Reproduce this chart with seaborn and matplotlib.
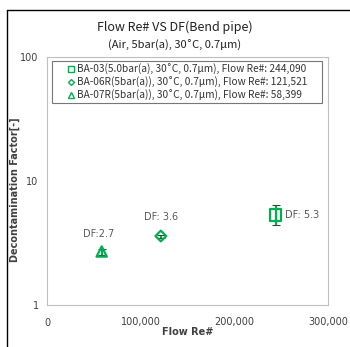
import matplotlib
matplotlib.use("Agg")
import matplotlib.pyplot as plt
from matplotlib.lines import Line2D
import seaborn as sns
import pandas as pd

# Test runs: flow Reynolds number vs decontamination factor
runs = ["BA-03", "BA-06R", "BA-07R"]
legend_labels = [
    "BA-03(5.0bar(a), 30\u02daC, 0.7\u03bcm), Flow Re#: 244,090",
    "BA-06R(5bar(a)), 30\u02daC, 0.7\u03bcm), Flow Re#: 121,521",
    "BA-07R(5bar(a)), 30\u02daC, 0.7\u03bcm), Flow Re#: 58,399",
]
flow_re = [244090, 121521, 58399]
df_values = [5.3, 3.6, 2.7]
df_low = [4.4, 3.5, 2.55]
df_high = [6.4, 3.7, 2.85]
point_labels = ["DF: 5.3", "DF: 3.6", "DF:2.7"]
markers = ["s", "D", "^"]
marker_sizes = [70, 30, 55]

x_ticks = [0, 100000, 200000, 300000]
x_tick_labels = ["0", "100,000", "200,000", "300,000"]
y_ticks = [1, 10, 100]
y_tick_labels = ["1", "10", "100"]

data = pd.DataFrame({"run": runs, "re": flow_re, "df": df_values})

sns.set_theme(style="white")
plt.rcParams["font.family"] = ["Noto Sans CJK KR", "DejaVu Sans"]

green = "#00B050"
grey_axis = "#BFBFBF"
text_grey = "#595959"

W, H = 350, 347
fig = plt.figure(figsize=(W / 100, H / 100), dpi=100)
ax = fig.add_axes([47 / W, 1 - 305 / H, (328 - 47) / W, (305 - 57) / H])

# error bars
for i in range(len(runs)):
    ax.errorbar(flow_re[i], df_values[i],
                yerr=[[df_values[i] - df_low[i]], [df_high[i] - df_values[i]]],
                fmt="none", ecolor="#404040", elinewidth=0.8, capsize=3, capthick=0.8, zorder=2)

# open markers
for i in range(len(runs)):
    sns.scatterplot(data=data.iloc[[i]], x="re", y="df", marker=markers[i],
                    s=marker_sizes[i], color=green, ax=ax, legend=False, zorder=3)
for coll in ax.collections:
    coll.set_facecolor("none")
    coll.set_edgecolor(green)
    coll.set_linewidth(1.6)

# value labels
offsets = [(7, 0, "left", "center"), (0, 10, "center", "bottom"), (-2, 9, "center", "bottom")]
for i in range(len(runs)):
    dx, dy, ha, va = offsets[i]
    ax.annotate(point_labels[i], (flow_re[i], df_values[i]), xytext=(dx, dy),
                textcoords="offset points", ha=ha, va=va, fontsize=7,
                color=text_grey, family=["DejaVu Sans"])

ax.set_yscale("log")
ax.set_xlim(0, 300000)
ax.set_ylim(1, 100)
ax.set_xticks(x_ticks)
ax.set_xticklabels(x_tick_labels)
ax.set_yticks(y_ticks)
ax.set_yticklabels(y_tick_labels)
ax.minorticks_off()
ax.set_xlabel("")
ax.set_ylabel("")
ax.tick_params(axis="both", which="major", length=3, width=0.8, color=grey_axis,
               labelsize=7, labelcolor="#404040")
ax.tick_params(axis="x", pad=6)
ax.tick_params(axis="y", pad=3)
for lbl in ax.get_xticklabels() + ax.get_yticklabels():
    lbl.set_family(["DejaVu Sans"])
for sp in ax.spines.values():
    sp.set_color(grey_axis)
    sp.set_linewidth(0.8)
ax.grid(False)

# axis titles
fig.text(188 / W, 1 - 332 / H, "Flow Re#", ha="center", va="center", fontsize=7,
         fontweight="bold", color="#404040", family=["DejaVu Sans"])
fig.text(15 / W, 1 - 190 / H, "Decontamination Factor[-]", ha="center", va="center",
         rotation=90, fontsize=7, fontweight="bold", color="#404040", family=["DejaVu Sans"])

fig.text(175 / W, 1 - 27 / H, "Flow Re# VS DF(Bend pipe)", ha="center", va="center",
         fontsize=9, color="#222222")
fig.text(175 / W, 1 - 45 / H, "(Air, 5bar(a), 30\u02daC, 0.7\u03bcm)", ha="center", va="center",
         fontsize=8, color="#222222", fontweight="medium")

handles = [Line2D([], [], linestyle="none", marker=m, markersize=4, markerfacecolor="none",
                  markeredgecolor=green, markeredgewidth=1.0) for m in ["s", "D", "^"]]
handles[1].set_markersize(3)
leg = fig.legend(handles, legend_labels, loc="upper left",
                 bbox_to_anchor=(52 / W, 1 - 101 / H, (322 - 52) / W, 40 / H),
                 bbox_transform=fig.transFigure, mode="expand",
                 fontsize=7.3, frameon=True, fancybox=False, handlelength=3.3,
                 handletextpad=-1.1, borderpad=0.25, labelspacing=0.2, borderaxespad=0)
leg.get_frame().set_edgecolor("#555555")
leg.get_frame().set_linewidth(0.8)
for t in leg.get_texts():
    t.set_color("#333333")

# outer frame lines (left and top)
fig.add_artist(Line2D([7 / W, 7 / W], [0, 1 - 10 / H], transform=fig.transFigure,
                      color="black", linewidth=1.0))
fig.add_artist(Line2D([7 / W, 1], [1 - 10 / H, 1 - 10 / H], transform=fig.transFigure,
                      color="black", linewidth=1.0))

fig.savefig("out.png", dpi=100)
